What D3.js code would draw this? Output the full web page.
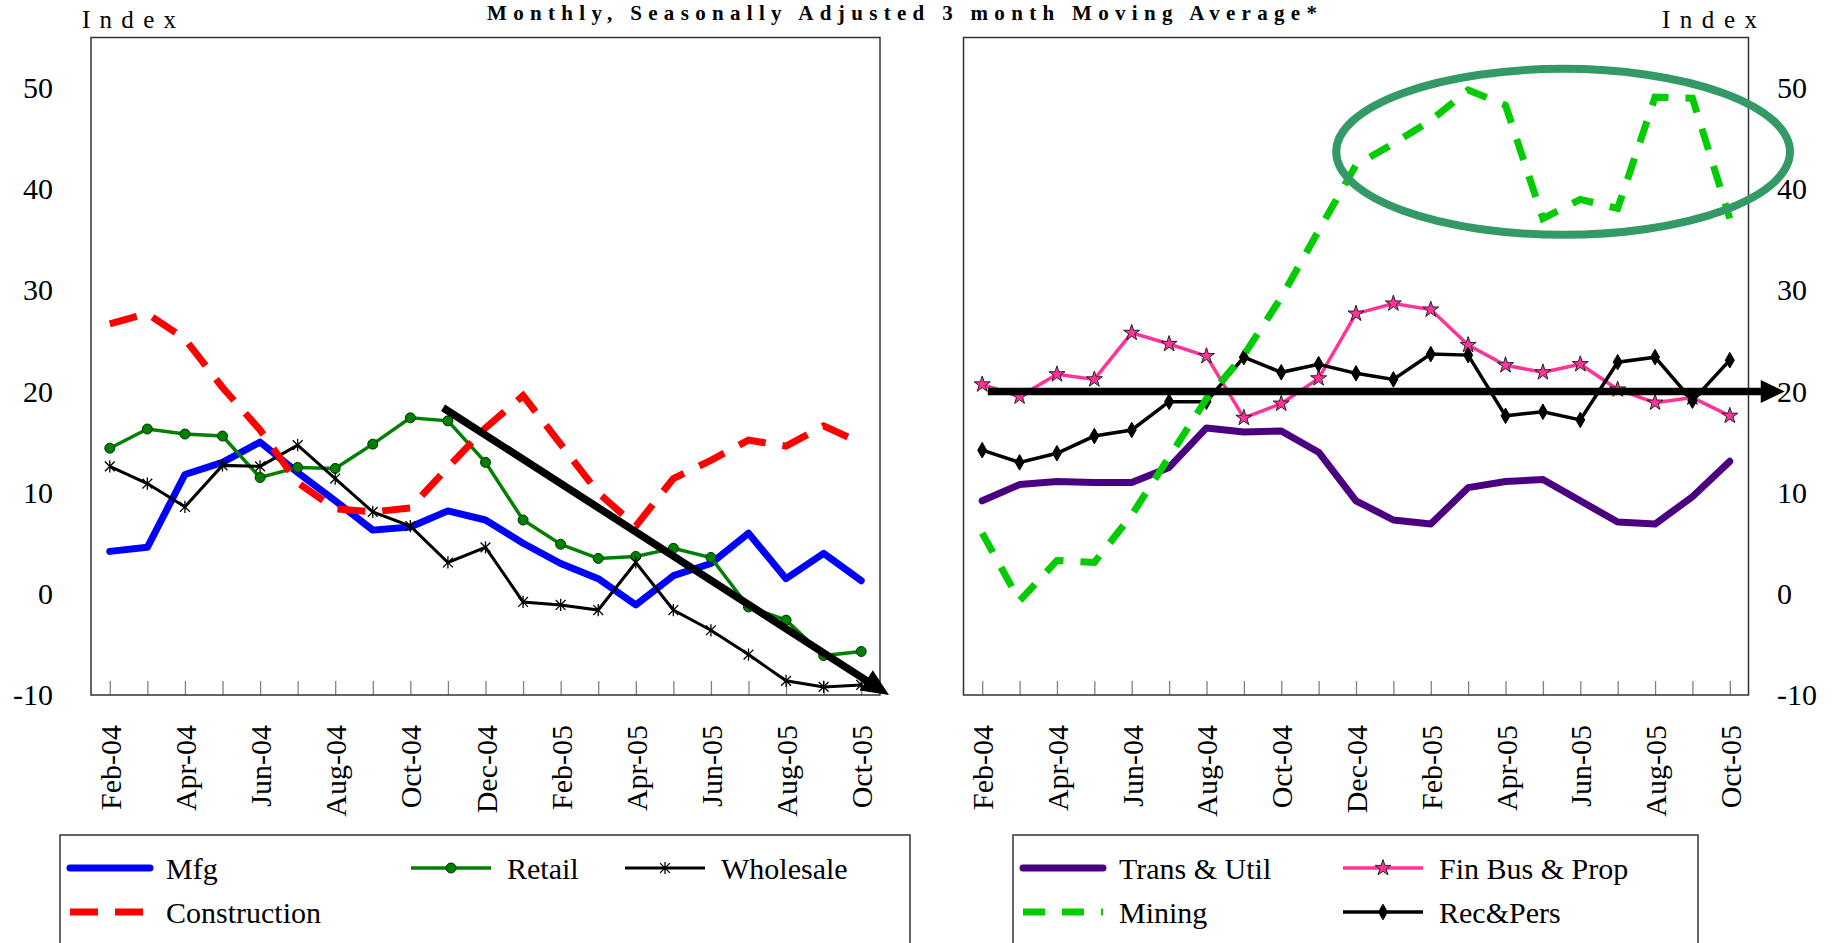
<!DOCTYPE html>
<html>
<head>
<meta charset="utf-8">
<script src="https://cdn.jsdelivr.net/npm/d3@7"></script>
<style>
  body { margin: 0; background: #fff; }
  svg { display: block; font-family: "Liberation Serif", "Times New Roman", serif; }
</style>
</head>
<body>
<svg width="1835" height="943"></svg>
<script>

// Monthly, seasonally adjusted 3 month moving average (index)
var months = ["Feb-04", "Mar-04", "Apr-04", "May-04", "Jun-04", "Jul-04", "Aug-04", "Sep-04", "Oct-04", "Nov-04", "Dec-04",
              "Jan-05", "Feb-05", "Mar-05", "Apr-05", "May-05", "Jun-05", "Jul-05", "Aug-05", "Sep-05", "Oct-05"];
var yTicks = [-10, 0, 10, 20, 30, 40, 50];

// left panel
var mfg          = [4.2, 4.6, 11.8, 13.0, 15.0, 12.0, 9.2, 6.3, 6.6, 8.2, 7.3, 5.0, 3.0, 1.5, -1.1, 1.8, 3.0, 6.0, 1.5, 4.0, 1.3];
var retail       = [14.4, 16.3, 15.8, 15.6, 11.5, 12.5, 12.4, 14.8, 17.4, 17.1, 13.0, 7.3, 4.9, 3.5, 3.7, 4.5, 3.6, -1.3, -2.6, -6.1, -5.7];
var wholesale    = [12.6, 10.9, 8.6, 12.7, 12.6, 14.7, 11.4, 8.1, 6.7, 3.1, 4.6, -0.8, -1.1, -1.6, 3.1, -1.6, -3.6, -6.0, -8.6, -9.2, -9.0];
var construction = [26.7, 27.7, 25.2, 20.4, 16.2, 11.0, 8.4, 8.1, 8.5, 12.5, 16.4, 19.6, 14.8, 10.0, 6.7, 11.4, 13.2, 15.2, 14.6, 16.6, 14.9];

// right panel
var transUtil    = [9.2, 10.8, 11.1, 11.0, 11.0, 12.5, 16.4, 16.0, 16.1, 14.0, 9.2, 7.3, 6.9, 10.5, 11.1, 11.3, 9.2, 7.1, 6.9, 9.6, 13.1];
var finBusProp   = [20.7, 19.5, 21.7, 21.2, 25.8, 24.7, 23.5, 17.4, 18.8, 21.3, 27.7, 28.7, 28.1, 24.6, 22.6, 21.9, 22.7, 20.2, 18.9, 19.4, 17.6];
var mining       = [6.0, -0.7, 3.3, 3.1, 7.8, 13.5, 19.3, 23.6, 29.3, 35.9, 42.4, 44.5, 46.8, 49.8, 48.3, 37.1, 39.0, 38.1, 49.1, 49.0, 37.1];
var recPers      = [14.2, 13.0, 13.9, 15.6, 16.2, 19.0, 19.0, 23.4, 21.9, 22.7, 21.8, 21.2, 23.7, 23.6, 17.6, 18.0, 17.2, 22.9, 23.4, 19.1, 23.1];

// annotations, in (month index, index value)
var leftTrend  = [[8.87, 18.4], [20.74, -10]];
var rightTrend = [[0.15, 20], [21.47, 20]];
var miningRing = {cx: 15.54, cy: 43.7, rx: 6.07, ry: 8.2};

var svg = d3.select("svg");

var y  = d3.scaleLinear().domain([-10, 55]).range([695, 37.5]);
var xL = d3.scaleLinear().domain([-0.5, months.length - 0.5]).range([91, 880]);
var xR = d3.scaleLinear().domain([-0.5, months.length - 0.5]).range([963.5, 1748.5]);

var leftSeries = [
  {name: "Mfg", values: mfg, color: "#0000ff", width: 7, cap: "round"},
  {name: "Retail", values: retail, color: "#008000", width: 3.5, marker: "circle"},
  {name: "Wholesale", values: wholesale, color: "#000000", width: 3, marker: "asterisk"},
  {name: "Construction", values: construction, color: "#ff0000", width: 7, dash: "28,17"}
];
var rightSeries = [
  {name: "Trans & Util", values: transUtil, color: "#4b0082", width: 7, cap: "round"},
  {name: "Fin Bus & Prop", values: finBusProp, color: "#ff3399", width: 3.5, marker: "star"},
  {name: "Rec&Pers", values: recPers, color: "#000000", width: 3.5, marker: "diamond"},
  {name: "Mining", values: mining, color: "#00cc00", width: 7, dash: "22,17"}
];

// six armed star marker like the spreadsheet one
var asterisk = {
  draw: function(ctx, size) {
    var r = Math.sqrt(size) / 2, d = r * 0.8;
    ctx.moveTo(0, -r); ctx.lineTo(0, r);
    ctx.moveTo(-d, -d); ctx.lineTo(d, d);
    ctx.moveTo(-d, d); ctx.lineTo(d, -d);
  }
};

function addMarker(sel, type, color) {
  if (type == "circle") {
    sel.append("circle").attr("r", 5).attr("fill", color).attr("stroke", "#003300").attr("stroke-width", 1);
  } else if (type == "asterisk") {
    sel.append("path").attr("d", d3.symbol().type(asterisk).size(150)())
       .attr("fill", "none").attr("stroke", "#000").attr("stroke-width", 1.3);
  } else if (type == "star") {
    sel.append("path").attr("d", d3.symbol().type(d3.symbolStar).size(80)())
       .attr("fill", color).attr("stroke", "#222").attr("stroke-width", 1);
  } else if (type == "diamond") {
    sel.append("path").attr("d", d3.symbol().type(d3.symbolDiamond).size(70)())
       .attr("fill", "#000").attr("stroke", "#000").attr("stroke-width", 1);
  }
}

function styleLine(sel, s) {
  sel.attr("fill", "none")
     .attr("stroke", s.color)
     .attr("stroke-width", s.width)
     .attr("stroke-linejoin", s.cap == "round" ? "round" : "miter")
     .attr("stroke-linecap", s.cap == "round" ? "round" : "butt")
     .attr("stroke-dasharray", s.dash || null);
}

function drawPanel(x, series, rightSide) {
  var g = svg.append("g");

  // category ticks along the bottom, pointing inward
  var xAxis = g.append("g")
      .attr("transform", "translate(0," + y(-10) + ")")
      .call(d3.axisBottom(x)
        .tickValues(d3.range(months.length))
        .tickSizeInner(-14).tickSizeOuter(0)
        .tickFormat(function(i) { return i % 2 ? "" : months[i]; }));
  xAxis.select(".domain").remove();
  xAxis.attr("font-family", null).attr("font-size", null);
  xAxis.selectAll("line").attr("stroke", "#808080").attr("stroke-width", 1.3);
  xAxis.selectAll("text")
      .attr("transform", "rotate(-90)")
      .attr("x", -30).attr("y", 0).attr("dy", "0.35em")
      .style("text-anchor", "end")
      .style("font-size", "30px")
      .attr("fill", "#000");

  var yAxis = g.append("g")
      .attr("transform", "translate(" + (rightSide ? x.range()[1] : x.range()[0]) + ",0)")
      .call((rightSide ? d3.axisRight(y) : d3.axisLeft(y))
        .tickValues(yTicks).tickSize(0).tickPadding(rightSide ? 28.5 : 38)
        .tickFormat(function(d) { return String(d); }));
  yAxis.select(".domain").remove();
  yAxis.attr("font-family", null).attr("font-size", null);
  yAxis.selectAll("text").style("font-size", "30px").attr("fill", "#000");

  g.append("rect")
      .attr("x", x.range()[0]).attr("y", y(55))
      .attr("width", x.range()[1] - x.range()[0])
      .attr("height", y(-10) - y(55))
      .attr("fill", "none").attr("stroke", "#333").attr("stroke-width", 1.5);

  var line = d3.line()
      .x(function(d, i) { return x(i); })
      .y(function(d) { return y(d); });

  series.forEach(function(s) {
    g.append("path").attr("d", line(s.values)).call(styleLine, s);
    if (s.marker) {
      g.selectAll(null).data(s.values).enter().append("g")
        .attr("transform", function(d, i) { return "translate(" + x(i) + "," + y(d) + ")"; })
        .each(function() { addMarker(d3.select(this), s.marker, s.color); });
    }
  });
  return g;
}

function drawArrow(g, x, pts, headLen, headW) {
  var p0 = [x(pts[0][0]), y(pts[0][1])], p1 = [x(pts[1][0]), y(pts[1][1])];
  var dx = p1[0] - p0[0], dy = p1[1] - p0[1], len = Math.sqrt(dx * dx + dy * dy);
  var ux = dx / len, uy = dy / len, nx = -uy, ny = ux;
  var bx = p1[0] - ux * headLen, by = p1[1] - uy * headLen;
  g.append("line")
      .attr("x1", p0[0]).attr("y1", p0[1])
      .attr("x2", bx + ux * 4).attr("y2", by + uy * 4)
      .attr("stroke", "#000").attr("stroke-width", 7.5);
  g.append("path")
      .attr("d", "M" + p1 + "L" + [bx + nx * headW, by + ny * headW] + "L" + [bx - nx * headW, by - ny * headW] + "Z")
      .attr("fill", "#000");
}

var left = drawPanel(xL, leftSeries, false);
var right = drawPanel(xR, rightSeries, true);

drawArrow(left, xL, leftTrend, 27, 12);
drawArrow(right, xR, rightTrend, 24, 11.5);

right.append("ellipse")
    .attr("cx", xR(miningRing.cx)).attr("cy", y(miningRing.cy))
    .attr("rx", xR(miningRing.cx + miningRing.rx) - xR(miningRing.cx))
    .attr("ry", y(miningRing.cy - miningRing.ry) - y(miningRing.cy))
    .attr("fill", "none").attr("stroke", "#339966").attr("stroke-width", 8);

// titles
svg.append("text")
    .attr("x", 902).attr("y", 20)
    .attr("text-anchor", "middle")
    .attr("textLength", 830).attr("lengthAdjust", "spacing")
    .style("font-weight", "bold").style("font-size", "21px")
    .text("Monthly, Seasonally Adjusted 3 month Moving Average*");

svg.append("text").attr("x", 82).attr("y", 28)
    .attr("textLength", 94).attr("lengthAdjust", "spacing")
    .style("font-size", "25px").text("Index");
svg.append("text").attr("x", 1662).attr("y", 28)
    .attr("textLength", 95).attr("lengthAdjust", "spacing")
    .style("font-size", "25px").text("Index");

// legends
var rowY = [868, 912];
var legends = [
  {box: [60, 910], items: [[leftSeries[0], 70, 0], [leftSeries[1], 411, 0], [leftSeries[2], 625, 0], [leftSeries[3], 70, 1]]},
  {box: [1013, 1698], items: [[rightSeries[0], 1023, 0], [rightSeries[1], 1343, 0], [rightSeries[3], 1023, 1], [rightSeries[2], 1343, 1]]}
];

legends.forEach(function(lg) {
  svg.append("rect")
      .attr("x", lg.box[0]).attr("y", 835)
      .attr("width", lg.box[1] - lg.box[0]).attr("height", 140)
      .attr("fill", "none").attr("stroke", "#333").attr("stroke-width", 1.5);
  lg.items.forEach(function(it) {
    var s = it[0], x0 = it[1], yy = rowY[it[2]];
    svg.append("line")
        .attr("x1", x0).attr("x2", x0 + 80).attr("y1", yy).attr("y2", yy)
        .call(styleLine, s);
    if (s.marker) {
      svg.append("g").attr("transform", "translate(" + (x0 + 40) + "," + yy + ")")
         .call(function(sel) { addMarker(sel, s.marker, s.color); });
    }
    svg.append("text")
        .attr("x", x0 + 96).attr("y", yy).attr("dy", "0.35em")
        .style("font-size", "30px")
        .text(s.name);
  });
});

</script>
</body>
</html>
